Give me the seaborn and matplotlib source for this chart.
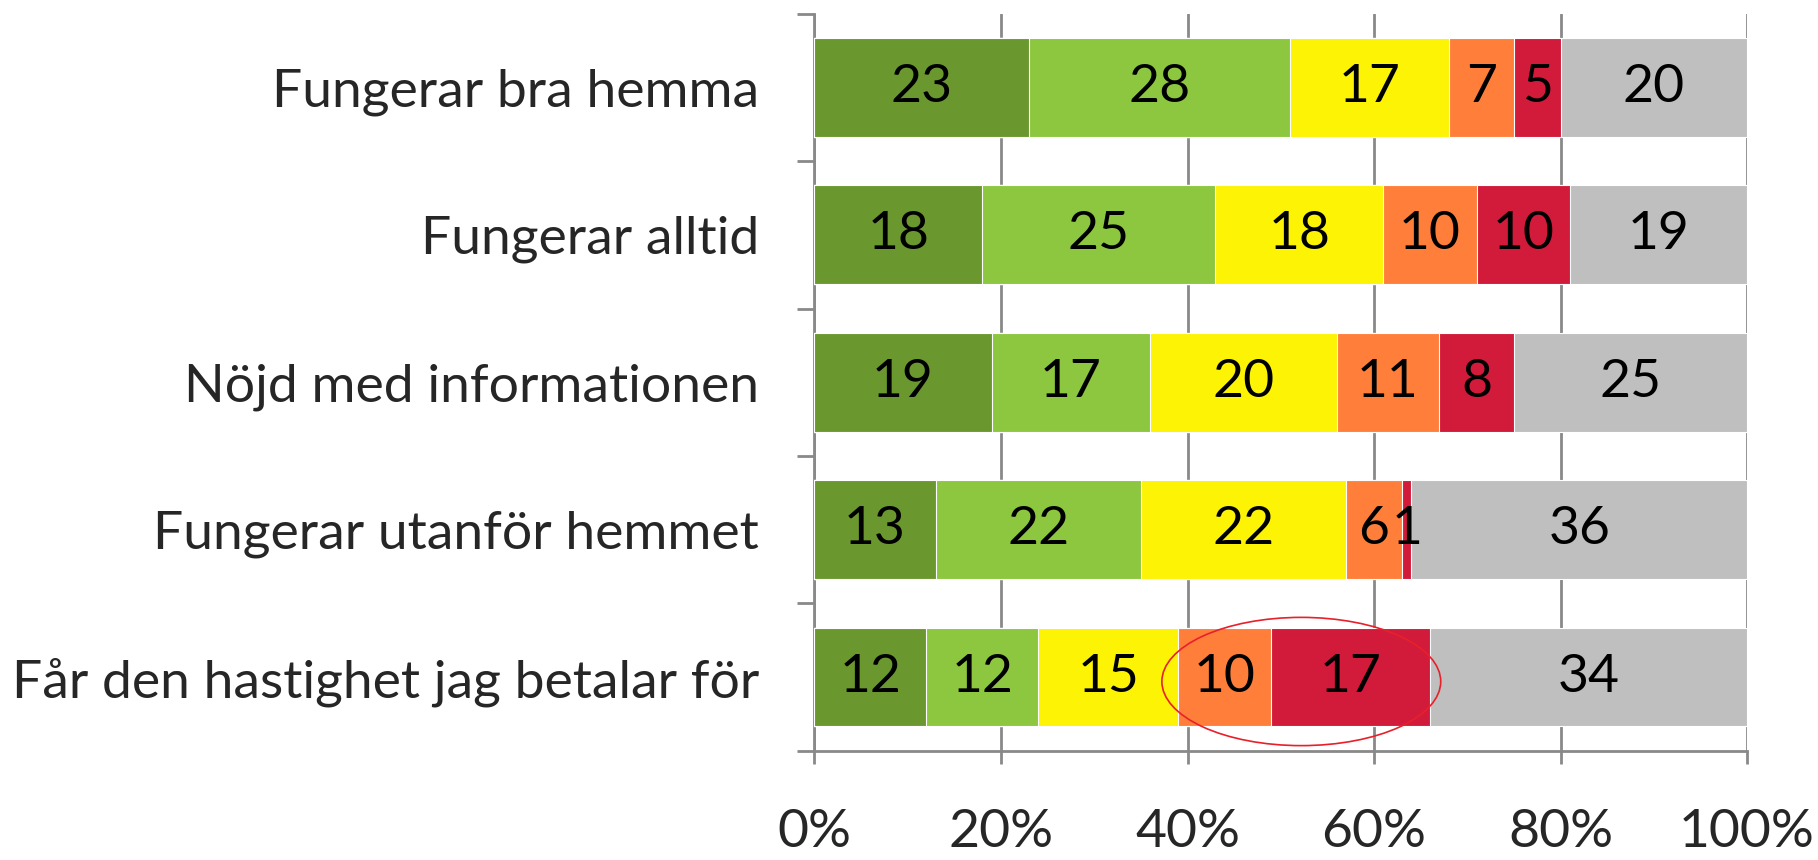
import numpy as np
import pandas as pd
import seaborn as sns
import matplotlib.pyplot as plt
from matplotlib.patches import Ellipse

# Data
categories = ['Fungerar bra hemma', 'Fungerar alltid', 'Nöjd med informationen',
              'Fungerar utanför hemmet', 'Får den hastighet jag betalar för']
level1 = [23, 18, 19, 13, 12]
level2 = [28, 25, 17, 22, 12]
level3 = [17, 18, 20, 22, 15]
level4 = [7, 10, 11, 6, 10]
level5 = [5, 10, 8, 1, 17]
noAnswer = [20, 19, 25, 36, 34]
xticks = [0, 20, 40, 60, 80, 100]

colors = ['#6B972F', '#8DC63F', '#FCF305', '#FF7F3A', '#D21B3B', '#BFBFBF']

sns.set_style('white')
plt.rcParams['font.family'] = ['Lato', 'DejaVu Sans']
fs = 38.5

series = [level1, level2, level3, level4, level5, noAnswer]
values = np.array(series, dtype=float)
pct = values / values.sum(axis=0) * 100
cumPct = pct.cumsum(axis=0)

fig = plt.figure(figsize=(18.18, 8.6), dpi=100)
ax = fig.add_axes([0.448, 0.127, 0.513, 0.857])

# Stacked bars: draw cumulative totals from the largest to the smallest
for i in range(len(series) - 1, -1, -1):
    df = pd.DataFrame({'cat': categories, 'val': cumPct[i]})
    sns.barplot(data=df, x='val', y='cat', color=colors[i], width=0.67,
                edgecolor='white', linewidth=0.8, saturation=1, ax=ax, zorder=3)

# Value labels
for i in range(len(series)):
    for j in range(len(categories)):
        xc = cumPct[i][j] - pct[i][j] / 2
        ax.text(xc, j, f'{int(values[i][j])}', ha='center', va='center',
                fontsize=fs, color='black', zorder=5)

# Red ellipse around the highlighted segments
ax.add_patch(Ellipse((52.2, 4.03), 29.9, 0.87, fill=False, edgecolor='#E8202A',
                     linewidth=1.2, zorder=6))

ax.set_xlim(0, 100)
ax.set_ylim(4.5, -0.5)
ax.set_xticks(xticks)
ax.set_xticklabels([f'{t}%' for t in xticks], fontsize=fs)
ax.set_yticks(range(len(categories)))
ax.set_yticklabels(categories, fontsize=fs)
ax.set_yticks(np.arange(-0.5, 5, 1), minor=True)
ax.set_xlabel('')
ax.set_ylabel('')

ax.grid(axis='x', color='#898989', linewidth=2, zorder=0)
ax.set_axisbelow(True)
for s in ['top', 'right']:
    ax.spines[s].set_visible(False)
for s in ['left', 'bottom']:
    ax.spines[s].set_color('#898989')
    ax.spines[s].set_linewidth(2)

ax.tick_params(axis='x', length=9, width=2, color='#898989', pad=33, bottom=True)
ax.tick_params(axis='y', which='major', length=0, pad=40)
ax.tick_params(axis='y', which='minor', length=12, width=2, color='#898989', left=True)

fig.savefig('out.png', dpi=100)
